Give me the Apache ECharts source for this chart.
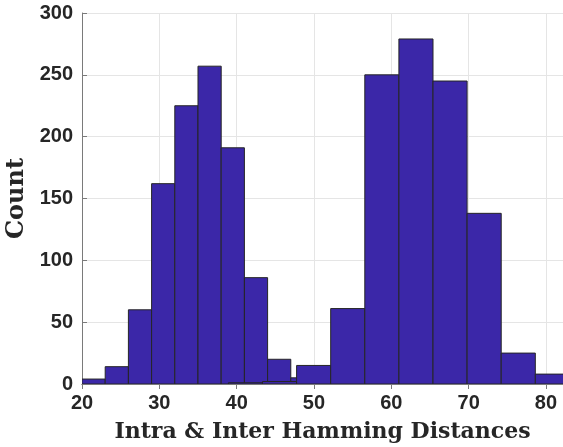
<!DOCTYPE html>
<html>
<head>
<meta charset="utf-8">
<script src="https://cdn.jsdelivr.net/npm/echarts@6/dist/echarts.min.js"></script>
<style>
	html, body { margin: 0; padding: 0; background: #fff; }
	#chart { width: 563px; height: 447px; }
</style>
</head>
<body>
<div id="chart"></div>
<script>
// bin edges and counts
var intraEdges = [20, 23, 26, 29, 32, 35, 38, 41, 44, 47, 50];
var intraCounts = [4, 14, 60, 162, 225, 257, 191, 86, 20, 5];
var interEdges = [38.93, 43.34, 47.75, 52.16, 56.57, 60.98, 65.39, 69.80, 74.21, 78.62, 83.03];
var interCounts = [1, 2, 15, 61, 250, 279, 245, 138, 25, 8];

function toBins(edges, counts) {
	var out = [];
	for (var i = 0; i < counts.length; i++) {
		out.push([edges[i], edges[i + 1], counts[i]]);
	}
	return out;
}

function renderBar(params, api) {
	var p0 = api.coord([api.value(0), api.value(2)]);
	var p1 = api.coord([api.value(1), 0]);
	return {
		type: "rect",
		shape: { x: p0[0], y: p0[1], width: p1[0] - p0[0], height: p1[1] - p0[1] },
		style: { fill: "#3b27a8", stroke: "#262626", lineWidth: 1 }
	};
}

var tickFont = {
	color: "#262626",
	fontFamily: "Liberation Sans",
	fontWeight: "bold",
	fontSize: 20
};
var axisGray = "#7a7a7a";

var myChart = echarts.init(document.getElementById("chart"));
myChart.setOption({
	animation: false,
	grid: { left: 82, right: 0, top: 13, bottom: 63, outerBoundsMode: "none" },
	xAxis: [{
		type: "value",
		min: 20,
		max: 82.2,
		interval: 10,
		name: "Intra & Inter Hamming Distances",
		nameLocation: "middle",
		nameGap: 37,
		nameTextStyle: {
			color: "#262626",
			fontFamily: "DejaVu Serif",
			fontWeight: "bold",
			fontSize: 22
		},
		axisLine: { show: true, onZero: false, lineStyle: { color: axisGray } },
		axisTick: { show: true, inside: true, length: 5, lineStyle: { color: axisGray } },
		axisLabel: Object.assign({ margin: 9, showMaxLabel: false }, tickFont),
		splitLine: { show: true, lineStyle: { color: "#e5e5e5" } }
	}, {
		type: "value",
		position: "top",
		min: 20,
		max: 82.2,
		interval: 10,
		axisLine: { show: true, lineStyle: { color: axisGray } },
		axisTick: { show: true, inside: true, length: 5, lineStyle: { color: axisGray } },
		axisLabel: { show: false },
		splitLine: { show: false }
	}],
	yAxis: [{
		type: "value",
		min: 0,
		max: 300,
		interval: 50,
		name: "Count",
		nameLocation: "middle",
		nameGap: 53,
		nameRotate: 90,
		nameTextStyle: {
			color: "#262626",
			fontFamily: "DejaVu Serif",
			fontWeight: "bold",
			fontSize: 24
		},
		axisLine: { show: true, lineStyle: { color: axisGray } },
		axisTick: { show: true, inside: true, length: 5, lineStyle: { color: axisGray } },
		axisLabel: Object.assign({ margin: 9 }, tickFont),
		splitLine: { show: true, lineStyle: { color: "#e5e5e5" } }
	}],
	series: [{
		name: "Intra",
		type: "custom",
		renderItem: renderBar,
		clip: true,
		encode: { x: [0, 1], y: 2 },
		data: toBins(intraEdges, intraCounts)
	}, {
		name: "Inter",
		type: "custom",
		renderItem: renderBar,
		clip: true,
		encode: { x: [0, 1], y: 2 },
		data: toBins(interEdges, interCounts)
	}]
});
</script>
</body>
</html>
